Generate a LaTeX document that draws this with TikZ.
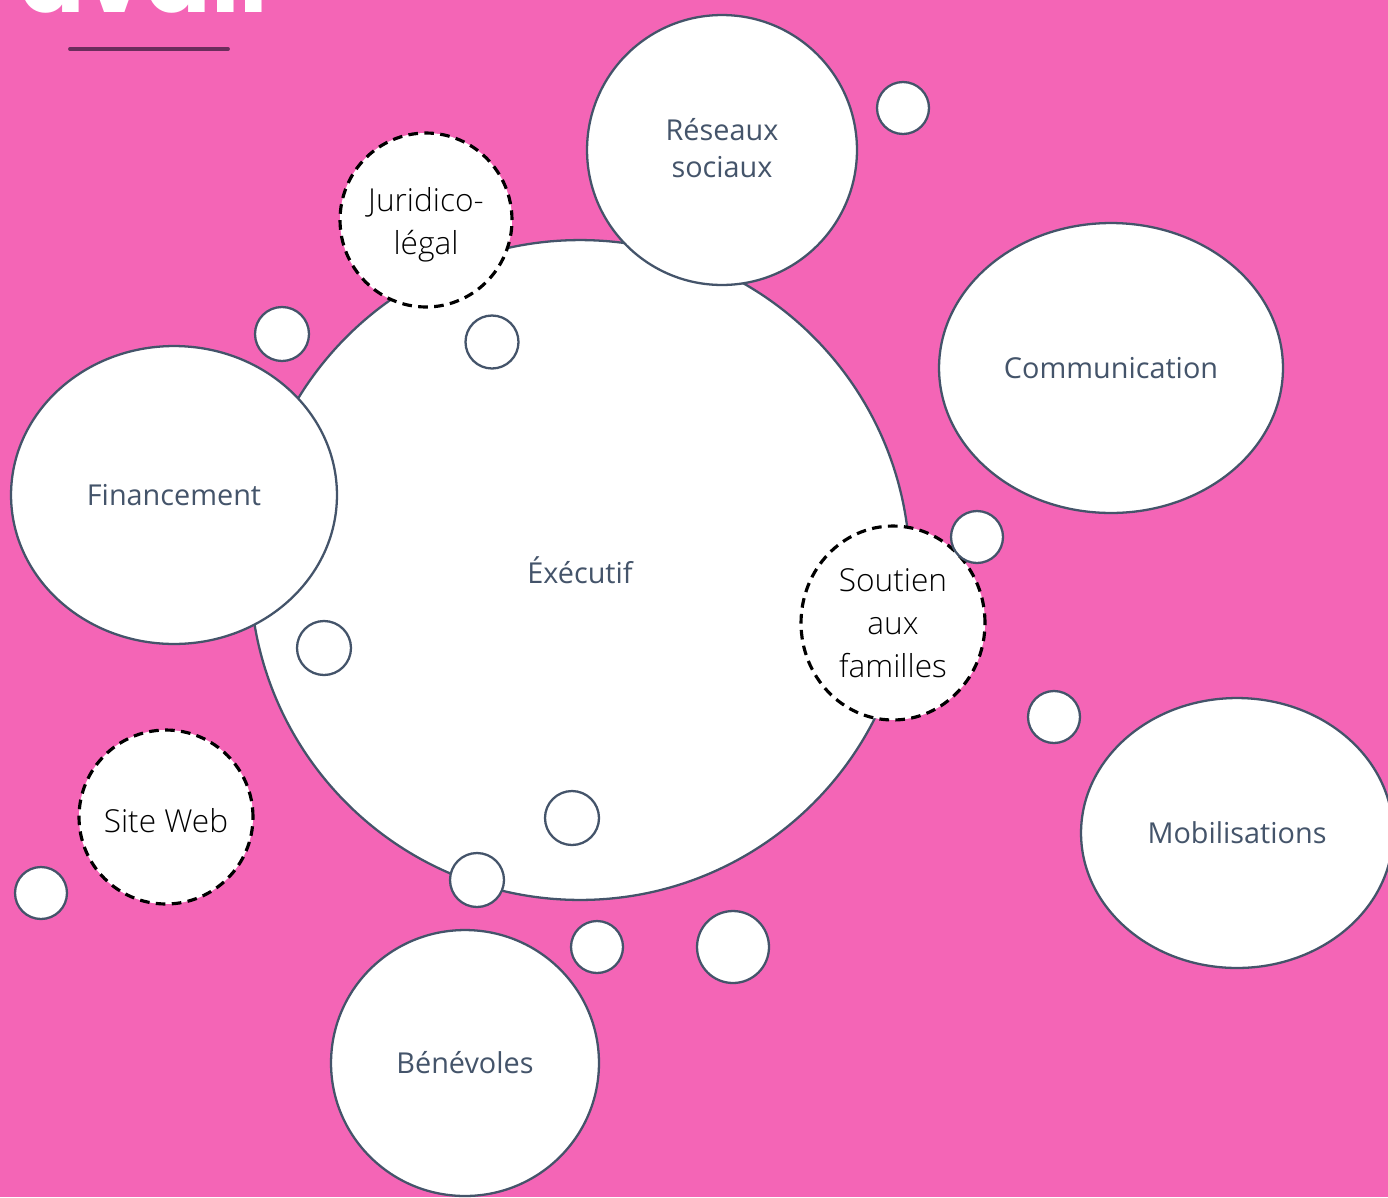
\documentclass[tikz,border=0pt]{standalone}
\usepackage{fontspec}
\setmainfont{Open Sans}
\setsansfont{Poppins}
\newfontfamily\leger{Open Sans Light}
\usepackage{tikz}
\usetikzlibrary{shapes.geometric}
\usetikzlibrary{positioning}
\definecolor{fond}{HTML}{F465B6}
\definecolor{ardoise}{HTML}{44546A}
\definecolor{trait}{HTML}{6B2D5C}

\begin{document}
\begin{tikzpicture}[%
x={(0.02cm,0cm)},
y={(0cm,-0.02cm)},
bulle/.style={ellipse, draw=ardoise, fill=white, line width=1.3pt, text=ardoise, font=\fontsize{16.4}{21}\selectfont, align=center, inner sep=0pt},
pointille/.style={ellipse, draw=black, fill=white, line width=1.8pt, dash pattern=on 5.5pt off 3.6pt, font=\leger\fontsize{18}{24.6}\selectfont, align=center, inner sep=0pt},
texteleger/.style={font=\leger\fontsize{18}{24.6}\selectfont, align=center, inner sep=0pt},
rond/.style={circle, draw=ardoise, fill=white, line width=1.3pt, inner sep=0pt},
]

\fill[fond] (0,0) rectangle (1388,1197);
\useasboundingbox (0,0) rectangle (1388,1197);

%Titre
\node[anchor=base west, text=white, font=\sffamily\bfseries\fontsize{55}{60}\selectfont, inner sep=0pt] (titre) at (19,12) {avail};
\draw[trait, line width=2.2pt, line cap=round] (70,49) -- (228,49);

%Bulles
\node[bulle, minimum width=13.2cm, minimum height=13.2cm] (exec) at (580,570) {Éxécutif};
\node[bulle, minimum width=5.4cm, minimum height=5.4cm, label={[bulle, draw=none, fill=none, yshift=0.04cm]center:Réseaux\\sociaux}] (reseaux) at (722,150) {};
\node[bulle, minimum width=6.88cm, minimum height=5.8cm] (comm) at (1111,368) {Communication};
\node[bulle, minimum width=6.52cm, minimum height=5.96cm] (fin) at (174,495) {Financement};
\node[bulle, minimum width=6.24cm, minimum height=5.4cm] (mob) at (1237,833) {Mobilisations};
\node[bulle, minimum width=5.36cm, minimum height=5.32cm] (bene) at (465,1063) {Bénévoles};

%Pointilles
\node[pointille, minimum width=3.44cm, minimum height=3.48cm, label={[texteleger, yshift=-0.1cm]center:Juridico-\\légal}] (juri) at (426,220) {};
\node[pointille, minimum width=3.68cm, minimum height=3.88cm] (soutien) at (893,623) {Soutien\\aux\\familles};
\node[pointille, minimum width=3.48cm, minimum height=3.48cm, label={[texteleger, yshift=-0.08cm]center:Site Web}] (site) at (166,817) {};

%Petits ronds
\foreach \i/\px/\py/\d in {1/903/108/1.04, 2/282/334/1.08, 3/492/342/1.06, 4/977/537/1.04,
  5/324/648/1.08, 6/1054/717/1.04, 7/572/818/1.08, 8/477/880/1.08, 9/41/893/1.04,
  10/597/947/1.04, 11/733/947/1.44}
  \node[rond, minimum size=\d cm] (p\i) at (\px,\py) {};

\end{tikzpicture}
\end{document}
